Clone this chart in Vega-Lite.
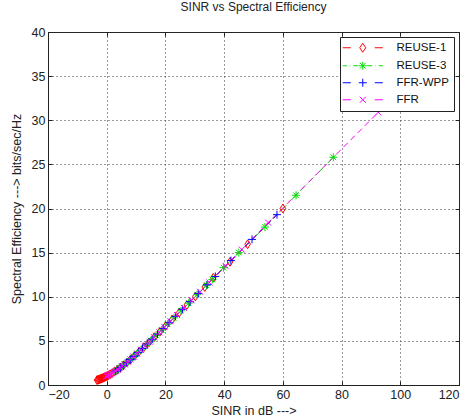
{
  "$schema": "https://vega.github.io/schema/vega-lite/v6.json",
  "width": 411,
  "height": 353,
  "autosize": {"type": "none"},
  "padding": {"left": 48, "top": 32, "right": 16, "bottom": 34},
  "background": "white",
  "title": {"text": "SINR vs Spectral Efficiency", "fontSize": 12, "fontWeight": "normal", "font": "Liberation Sans", "color": "#222", "offset": 12},
  "config": {
    "view": {"stroke": "#222", "strokeWidth": 1},
    "axis": {"labelFont": "Liberation Sans", "titleFont": "Liberation Sans", "labelFontSize": 12.5, "titleFontSize": 12.5, "titleFontWeight": "normal", "labelColor": "#222", "titleColor": "#222", "domainColor": "#222", "tickColor": "#222", "gridColor": "#333", "gridDash": [1, 3], "gridWidth": 1, "tickSize": -4, "labelPadding": 7},
    "legend": {"labelFont": "Liberation Sans", "labelFontSize": 11.5, "labelColor": "#111"}
  },
  "data": {"values": [
    {"series": "REUSE-1", "sinr": -3.3, "se": 0.554},
    {"series": "REUSE-1", "sinr": -3.0, "se": 0.586},
    {"series": "REUSE-1", "sinr": -2.7, "se": 0.620},
    {"series": "REUSE-1", "sinr": -2.4, "se": 0.656},
    {"series": "REUSE-1", "sinr": -2.1, "se": 0.693},
    {"series": "REUSE-1", "sinr": -1.8, "se": 0.732},
    {"series": "REUSE-1", "sinr": -1.5, "se": 0.772},
    {"series": "REUSE-1", "sinr": -1.2, "se": 0.814},
    {"series": "REUSE-1", "sinr": -0.9, "se": 0.858},
    {"series": "REUSE-1", "sinr": -0.6, "se": 0.904},
    {"series": "REUSE-1", "sinr": -0.3, "se": 0.951},
    {"series": "REUSE-1", "sinr": 0.1, "se": 1.017},
    {"series": "REUSE-1", "sinr": 0.6, "se": 1.103},
    {"series": "REUSE-1", "sinr": 1.2, "se": 1.213},
    {"series": "REUSE-1", "sinr": 1.9, "se": 1.350},
    {"series": "REUSE-1", "sinr": 2.7, "se": 1.517},
    {"series": "REUSE-1", "sinr": 3.6, "se": 1.719},
    {"series": "REUSE-1", "sinr": 4.6, "se": 1.958},
    {"series": "REUSE-1", "sinr": 5.7, "se": 2.237},
    {"series": "REUSE-1", "sinr": 6.9, "se": 2.560},
    {"series": "REUSE-1", "sinr": 8.2, "se": 2.927},
    {"series": "REUSE-1", "sinr": 9.6, "se": 3.339},
    {"series": "REUSE-1", "sinr": 11.1, "se": 3.795},
    {"series": "REUSE-1", "sinr": 12.7, "se": 4.294},
    {"series": "REUSE-1", "sinr": 14.4, "se": 4.835},
    {"series": "REUSE-1", "sinr": 16.2, "se": 5.416},
    {"series": "REUSE-1", "sinr": 18.1, "se": 6.035},
    {"series": "REUSE-1", "sinr": 20.1, "se": 6.691},
    {"series": "REUSE-1", "sinr": 22.3, "se": 7.416},
    {"series": "REUSE-1", "sinr": 24.7, "se": 8.210},
    {"series": "REUSE-1", "sinr": 27.3, "se": 9.072},
    {"series": "REUSE-1", "sinr": 30.2, "se": 10.034},
    {"series": "REUSE-1", "sinr": 33.4, "se": 11.096},
    {"series": "REUSE-1", "sinr": 36.3, "se": 12.15},
    {"series": "REUSE-1", "sinr": 42.0, "se": 13.95},
    {"series": "REUSE-1", "sinr": 48.0, "se": 15.95},
    {"series": "REUSE-1", "sinr": 60.0, "se": 20.0},
    {"series": "REUSE-3", "sinr": 2.5, "se": 1.474},
    {"series": "REUSE-3", "sinr": 3.3, "se": 1.650},
    {"series": "REUSE-3", "sinr": 4.2, "se": 1.860},
    {"series": "REUSE-3", "sinr": 5.2, "se": 2.108},
    {"series": "REUSE-3", "sinr": 6.3, "se": 2.397},
    {"series": "REUSE-3", "sinr": 7.5, "se": 2.728},
    {"series": "REUSE-3", "sinr": 8.8, "se": 3.102},
    {"series": "REUSE-3", "sinr": 10.2, "se": 3.520},
    {"series": "REUSE-3", "sinr": 11.7, "se": 3.981},
    {"series": "REUSE-3", "sinr": 13.3, "se": 4.485},
    {"series": "REUSE-3", "sinr": 15.0, "se": 5.028},
    {"series": "REUSE-3", "sinr": 16.8, "se": 5.611},
    {"series": "REUSE-3", "sinr": 18.7, "se": 6.232},
    {"series": "REUSE-3", "sinr": 20.7, "se": 6.889},
    {"series": "REUSE-3", "sinr": 22.9, "se": 7.615},
    {"series": "REUSE-3", "sinr": 25.3, "se": 8.409},
    {"series": "REUSE-3", "sinr": 27.9, "se": 9.270},
    {"series": "REUSE-3", "sinr": 30.8, "se": 10.233},
    {"series": "REUSE-3", "sinr": 34.0, "se": 11.295},
    {"series": "REUSE-3", "sinr": 36.0, "se": 11.96},
    {"series": "REUSE-3", "sinr": 39.8, "se": 13.3},
    {"series": "REUSE-3", "sinr": 45.0, "se": 15.0},
    {"series": "REUSE-3", "sinr": 53.9, "se": 17.9},
    {"series": "REUSE-3", "sinr": 64.5, "se": 21.5},
    {"series": "REUSE-3", "sinr": 77.2, "se": 25.8},
    {"series": "FFR-WPP", "sinr": 3.0, "se": 1.583},
    {"series": "FFR-WPP", "sinr": 3.8, "se": 1.765},
    {"series": "FFR-WPP", "sinr": 4.7, "se": 1.982},
    {"series": "FFR-WPP", "sinr": 5.7, "se": 2.237},
    {"series": "FFR-WPP", "sinr": 6.8, "se": 2.533},
    {"series": "FFR-WPP", "sinr": 8.0, "se": 2.870},
    {"series": "FFR-WPP", "sinr": 9.3, "se": 3.250},
    {"series": "FFR-WPP", "sinr": 10.7, "se": 3.673},
    {"series": "FFR-WPP", "sinr": 12.2, "se": 4.138},
    {"series": "FFR-WPP", "sinr": 13.8, "se": 4.644},
    {"series": "FFR-WPP", "sinr": 15.5, "se": 5.189},
    {"series": "FFR-WPP", "sinr": 17.3, "se": 5.774},
    {"series": "FFR-WPP", "sinr": 19.2, "se": 6.395},
    {"series": "FFR-WPP", "sinr": 21.2, "se": 7.053},
    {"series": "FFR-WPP", "sinr": 23.4, "se": 7.780},
    {"series": "FFR-WPP", "sinr": 25.8, "se": 8.574},
    {"series": "FFR-WPP", "sinr": 28.4, "se": 9.436},
    {"series": "FFR-WPP", "sinr": 31.2, "se": 10.365},
    {"series": "FFR-WPP", "sinr": 34.2, "se": 11.361},
    {"series": "FFR-WPP", "sinr": 37.0, "se": 12.3},
    {"series": "FFR-WPP", "sinr": 42.3, "se": 14.1},
    {"series": "FFR-WPP", "sinr": 49.5, "se": 16.5},
    {"series": "FFR-WPP", "sinr": 58.0, "se": 19.3},
    {"series": "FFR", "sinr": 0.0, "se": 1.0},
    {"series": "FFR", "sinr": 0.4, "se": 1.068},
    {"series": "FFR", "sinr": 0.8, "se": 1.139},
    {"series": "FFR", "sinr": 1.3, "se": 1.232},
    {"series": "FFR", "sinr": 1.8, "se": 1.330},
    {"series": "FFR", "sinr": 2.4, "se": 1.453},
    {"series": "FFR", "sinr": 3.0, "se": 1.583},
    {"series": "FFR", "sinr": 3.7, "se": 1.742},
    {"series": "FFR", "sinr": 4.4, "se": 1.909},
    {"series": "FFR", "sinr": 5.2, "se": 2.108},
    {"series": "FFR", "sinr": 6.1, "se": 2.343},
    {"series": "FFR", "sinr": 7.1, "se": 2.616},
    {"series": "FFR", "sinr": 8.1, "se": 2.899},
    {"series": "FFR", "sinr": 9.2, "se": 3.220},
    {"series": "FFR", "sinr": 10.4, "se": 3.581},
    {"series": "FFR", "sinr": 11.7, "se": 3.981},
    {"series": "FFR", "sinr": 13.1, "se": 4.421},
    {"series": "FFR", "sinr": 14.6, "se": 4.900},
    {"series": "FFR", "sinr": 16.2, "se": 5.416},
    {"series": "FFR", "sinr": 17.9, "se": 5.970},
    {"series": "FFR", "sinr": 19.7, "se": 6.560},
    {"series": "FFR", "sinr": 21.7, "se": 7.218},
    {"series": "FFR", "sinr": 23.9, "se": 7.945},
    {"series": "FFR", "sinr": 26.3, "se": 8.740},
    {"series": "FFR", "sinr": 28.9, "se": 9.602},
    {"series": "FFR", "sinr": 31.8, "se": 10.565},
    {"series": "FFR", "sinr": 35.0, "se": 11.63},
    {"series": "FFR", "sinr": 40.5, "se": 13.5},
    {"series": "FFR", "sinr": 46.0, "se": 15.35},
    {"series": "FFR", "sinr": 55.0, "se": 18.4},
    {"series": "FFR", "sinr": 92.5, "se": 30.9}
  ]},
  "resolve": {"axis": {"x": "independent", "y": "independent"}, "scale": {"shape": "independent"}},
  "layer": [
    {
      "mark": {"type": "line", "strokeWidth": 1, "clip": true},
      "encoding": {
        "x": {"field": "sinr", "type": "quantitative", "scale": {"domain": [-20, 120], "nice": false, "zero": false},
          "axis": {"orient": "bottom", "values": [-20, 0, 20, 40, 60, 80, 100, 120], "grid": true, "title": "SINR in dB --->", "titlePadding": 4}},
        "y": {"field": "se", "type": "quantitative", "scale": {"domain": [0, 40], "nice": false},
          "axis": {"orient": "left", "values": [0, 5, 10, 15, 20, 25, 30, 35, 40], "grid": true, "title": "Spectral Efficiency ---> bits/sec/Hz", "titlePadding": 8}},
        "color": {"field": "series", "type": "nominal", "scale": {"domain": ["REUSE-1", "REUSE-3", "FFR-WPP", "FFR"], "range": ["#ff0000", "#00e000", "#0000ff", "#ff00ff"]}, "legend": null},
        "strokeDash": {"field": "series", "type": "nominal", "scale": {"domain": ["REUSE-1", "REUSE-3", "FFR-WPP", "FFR"], "range": [[6, 4], [6, 3, 1, 3], [6, 4], [6, 4]]}, "legend": null},
        "order": {"field": "sinr", "type": "quantitative"}
      }
    },
    {
      "mark": {"type": "point", "filled": false, "strokeWidth": 1, "size": 64, "opacity": 1, "clip": true},
      "encoding": {
        "x": {"field": "sinr", "type": "quantitative",
          "axis": {"orient": "top", "values": [-20, 0, 20, 40, 60, 80, 100, 120], "grid": false, "labels": false, "title": null, "domain": false}},
        "y": {"field": "se", "type": "quantitative",
          "axis": {"orient": "right", "values": [0, 5, 10, 15, 20, 25, 30, 35, 40], "grid": false, "labels": false, "title": null, "domain": false}},
        "color": {"field": "series", "type": "nominal", "legend": null},
        "shape": {"field": "series", "type": "nominal", "scale": {"domain": ["REUSE-1", "REUSE-3", "FFR-WPP", "FFR"], "range": [
          "M0,-1.1L0.7,0L0,1.1L-0.7,0Z",
          "M-1,0L1,0M0,-1L0,1M-0.7,-0.7L0.7,0.7M-0.7,0.7L0.7,-0.7",
          "M-1,0L1,0M0,-1L0,1",
          "M-0.75,-0.75L0.75,0.75M-0.75,0.75L0.75,-0.75"
        ]}, "legend": null}
      }
    },
    {
      "mark": {"type": "point", "filled": false, "strokeWidth": 1, "size": 0, "clip": true},
      "encoding": {
        "x": {"field": "sinr", "type": "quantitative", "axis": null},
        "y": {"field": "se", "type": "quantitative", "axis": null},
        "shape": {"field": "series", "type": "nominal", "sort": null, "scale": {"range": [
          "M-4,0L-2.4,0M2.4,0L4,0M0,-0.9L0.6,0L0,0.9L-0.6,0Z",
          "M-4,0L-3.2,0M-2.6,0L-2.5,0M-1.9,0L-0.9,0M0.9,0L1.9,0M2.5,0L2.6,0M3.2,0L4,0M-0.8,0L0.8,0M0,-0.8L0,0.8M-0.57,-0.57L0.57,0.57M-0.57,0.57L0.57,-0.57",
          "M-4,0L-2.4,0M2.4,0L4,0M-0.8,0L0.8,0M0,-0.8L0,0.8",
          "M-4,0L-2.4,0M2.4,0L4,0M-0.6,-0.6L0.6,0.6M-0.6,0.6L0.6,-0.6"
        ]}, "legend": {
          "title": null, "orient": "top-right", "offset": 5, "strokeColor": "#222", "fillColor": "white", "padding": 5,
          "symbolSize": 100, "symbolStrokeWidth": 1, "symbolOpacity": 1, "symbolFillColor": "transparent",
          "symbolStrokeColor": {"expr": "datum.value === 'REUSE-1' ? '#ff0000' : datum.value === 'REUSE-3' ? '#00e000' : datum.value === 'FFR-WPP' ? '#0000ff' : '#ff00ff'"},
          "symbolOffset": 12, "labelOffset": 28, "rowPadding": 4
        }}
      }
    }
  ]
}
